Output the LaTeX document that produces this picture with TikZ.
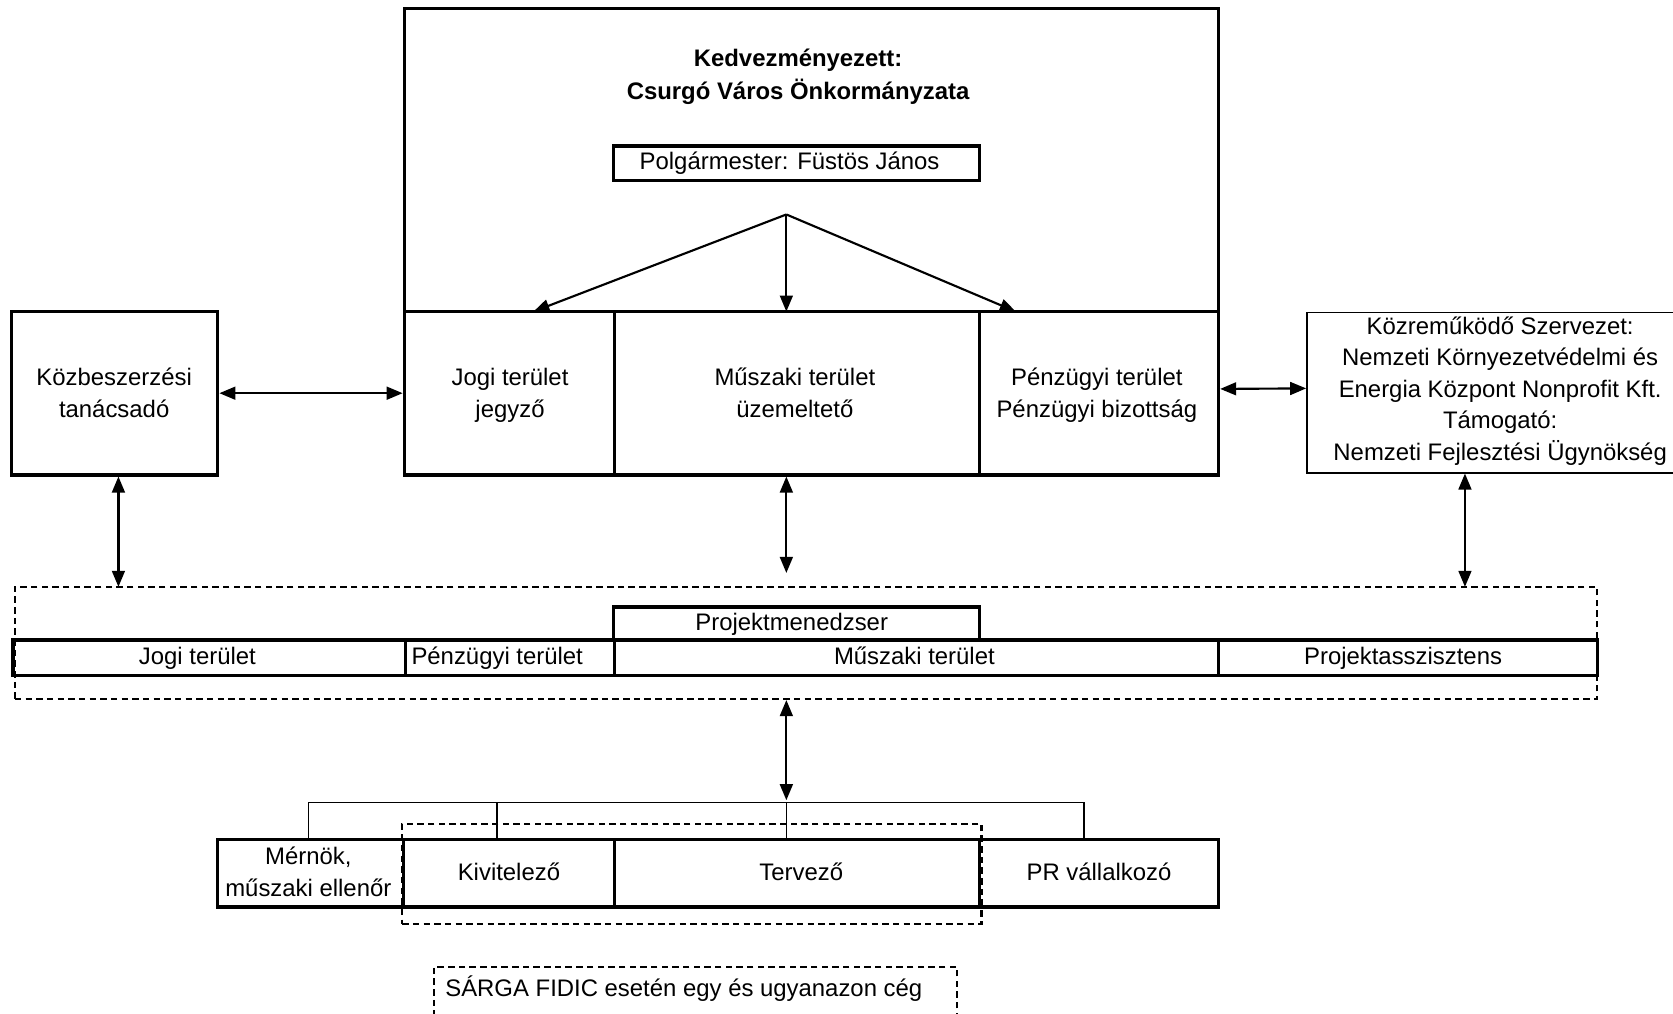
\documentclass[tikz,border=0pt]{standalone}
\usepackage{fontspec}
\setmainfont{Liberation Sans}
\usetikzlibrary{arrows.meta,fit}
\begin{document}
\begin{tikzpicture}[x=0.5pt,y=-0.5pt,
  thickbox/.style={draw,line width=1.6pt,inner sep=0pt},
  thinbox/.style={draw,line width=0.8pt,inner sep=0pt},
  dbox/.style={draw,line width=1.1pt,dash pattern=on 3pt off 2pt,inner sep=0pt},
  txt/.style={font=\fontsize{11.2}{15}\selectfont,align=center,inner sep=0pt,text depth=0.21em},
  conn/.style={line width=1pt},
  busline/.style={line width=0.8pt},
  tip/.style={-{Triangle[length=7.5pt,width=6pt]}},
  dtip/.style={{Triangle[length=7.5pt,width=6pt]}-{Triangle[length=7.5pt,width=6pt]}},
]
\useasboundingbox (0,0) rectangle (1568,950);
\fill[white] (0,0) rectangle (1568,950);

% top main box
\node[thickbox, fit={(379,8) (1142,445)}] (main) {};
\node[txt, font=\bfseries\fontsize{11.2}{15.5}\selectfont] (title) at (748,72) {Kedvezményezett:\\Csurgó Város Önkormányzata};
\node[thickbox, fit={(575,137) (918,169)}] (polg) {};
\node[txt] (polgt) at (740,153) {Polgármester: Füstös János};
\node[thickbox, fit={(379,292) (576,445)}] (jogi) {};
\node[txt] (jogit) at (478,370) {Jogi terület\\jegyző};
\node[thickbox, fit={(576,292) (918,445)}] (musz) {};
\node[txt] (muszt) at (745,370) {Műszaki terület\\üzemeltető};
\node[thickbox, fit={(918,292) (1142,445)}] (penz) {};
\node[txt] (penzt) at (1028,370) {Pénzügyi terület\\Pénzügyi bizottság};

% side boxes
\node[thickbox, fit={(11,292) (204,445)}] (kb) {};
\node[txt] (kbt) at (107,370) {Közbeszerzési\\tanácsadó};
\node[thinbox, fit={(1225,293) (1587,443)}] (kozr) {};
\node[txt, font=\fontsize{11.2}{14.75}\selectfont] (kozrt) at (1406,366) {Közreműködő Szervezet:\\Nemzeti Környezetvédelmi és\\Energia Központ Nonprofit Kft.\\Támogató:\\Nemzeti Fejlesztési Ügynökség};

% arrows from mayor
\coordinate (apex) at (737,201);
\coordinate (ta) at (500,292);
\coordinate (tb) at (737,292);
\coordinate (tc) at (952,292);
\draw[conn,tip] (apex) -- (ta);
\draw[conn,tip] (apex) -- (tb);
\draw[conn,tip] (apex) -- (tc);

\draw[conn,dtip] (kb.east) -- (jogi.west);
\draw[conn,dtip] ([yshift=2pt]penz.east) -- ([yshift=2pt]kozr.west);

% project team
\node[dbox, fit={(14,550) (1497,655)}] (dash) {};
\node[thickbox, fit={(575,569) (918,600)}] (pm) {};
\node[txt] (pmt) at (742,585) {Projektmenedzser};
\node[thickbox, fit={(12,600) (380,633)}] (jogi2) {};
\node[txt] (jogi2t) at (185,617) {Jogi terület};
\node[thickbox, fit={(380,600) (576,633)}] (penz2) {};
\node[txt] (penz2t) at (466,617) {Pénzügyi terület};
\node[thickbox, fit={(576,600) (1142,633)}] (musz2) {};
\node[txt] (musz2t) at (857,617) {Műszaki terület};
\node[thickbox, fit={(1142,600) (1497,633)}] (proj) {};
\node[txt] (projt) at (1315,617) {Projektasszisztens};

\coordinate (l1) at (111,550);
\coordinate (m1) at (737,537);
\coordinate (r1) at (1373,550);
\draw[conn,dtip] (l1 |- kb.south) -- (l1);
\draw[conn,dtip] (m1 |- musz.south) -- (m1);
\draw[conn,dtip] (r1 |- kozr.south) -- (r1);

% contractors
\node[thickbox, fit={(204,787) (378,850)}] (mern) {};
\node[txt] (mernt) at (289,819) {Mérnök,\\műszaki ellenőr};
\node[thickbox, fit={(378,787) (576,850)}] (kiv) {};
\node[txt] (kivt) at (477,819) {Kivitelező};
\node[thickbox, fit={(576,787) (918,850)}] (terv) {};
\node[txt] (tervt) at (751,819) {Tervező};
\node[thickbox, fit={(918,787) (1142,850)}] (pr) {};
\node[txt] (prt) at (1030,819) {PR vállalkozó};
\node[dbox, fit={(377,772) (920,866)}] (fidicgrp) {};

\coordinate (b1) at (289,752);
\coordinate (b2) at (466,752);
\coordinate (b3) at (737,752);
\coordinate (b4) at (1016,752);
\draw[busline] (b1) -- (b4);
\draw[busline] (b1) -- (b1 |- mern.north);
\draw[busline] (b2) -- (b2 |- kiv.north);
\draw[busline] (b3) -- (b3 |- terv.north);
\draw[busline] (b4) -- (b4 |- pr.north);
\draw[conn,dtip] (b3 |- dash.south) -- ([yshift=1pt]b3);

% note
\node[dbox, fit={(407,906) (897,975)}] (note) {};
\node[txt, anchor=west] (notetext) at (417,926) {SÁRGA FIDIC esetén egy és ugyanazon cég};
\end{tikzpicture}
\end{document}
